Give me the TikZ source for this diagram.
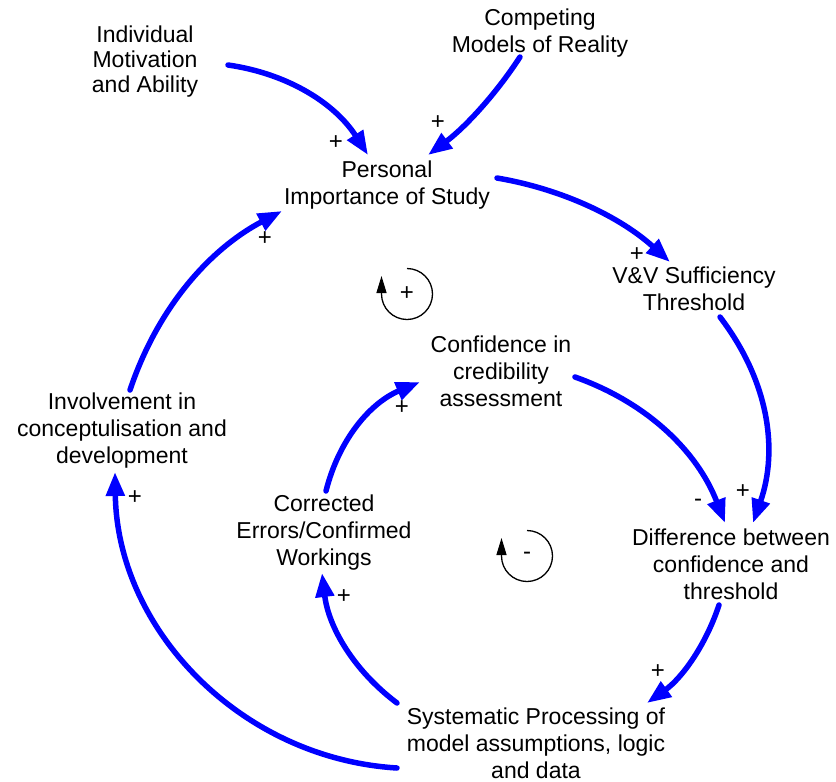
\documentclass[tikz,border=0pt]{standalone}
\usepackage{fontspec}
\setmainfont{Liberation Sans}
\usetikzlibrary{arrows.meta,calc}
\begin{document}
\begin{tikzpicture}[x=1pt,y=-1pt,
  var/.style={align=center,inner sep=0pt,font=\fontsize{23}{27}\selectfont},
  pol/.style={inner sep=0pt,font=\fontsize{24}{24}\selectfont},
  link/.style={draw=blue,line width=5.5pt,line cap=round,-{Triangle[length=24pt,width=18pt]}},
  loopline/.style={draw=black,line width=1.3pt,-{Triangle[length=17pt,width=10pt]}}]
\useasboundingbox (0,0) rectangle (836,782);

% variables
\node[var,font=\fontsize{23}{25}\selectfont] (ind) at (145,62) {Individual\\Motivation\\and Ability};
\node[var] (comp) at (540,33)  {Competing\\Models of Reality};
\node[var] (pers) at (387,185) {Personal\\Importance of Study};
\node[var] (vv)   at (694,289) {V\&V Sufficiency\\Threshold};
\node[var] (conf) at (501,371) {Confidence in\\credibility\\assessment};
\node[var] (inv)  at (122,431) {Involvement in\\conceptulisation and\\development};
\node[var] (corr) at (324,533) {Corrected\\Errors/Confirmed\\Workings};
\node[var] (diff) at (731,564) {Difference between\\confidence and\\threshold};
\node[var] (sys)  at (536,743) {Systematic Processing of\\model assumptions, logic\\and data};

% links
\draw[link] ($(ind)+(83,3)$) .. controls (288.4,73.7) and (335.1,103.7) .. ($(pers)+(-19,-30)$);
\draw[link] ($(comp)+(-20,24)$) .. controls (495.2,95.1) and (464.5,127.8) .. ($(pers)+(41,-30)$);
\draw[link] ($(pers)+(110,-7)$) .. controls (562.8,189.2) and (620.5,217.2) .. ($(vv)+(-24,-27)$);
\draw[link] ($(vv)+(26,28)$) .. controls (767.9,379.8) and (778.9,448.5) .. ($(diff)+(22,-41)$);
\draw[link] ($(conf)+(74,6)$) .. controls (647.3,402.7) and (697.3,451.4) .. ($(diff)+(-6,-41)$);
\draw[link] ($(diff)+(-12,41)$) .. controls (705.7,645.5) and (681.7,678.2) .. ($(sys)+(111,-40)$);
\draw[link] ($(sys)+(-139,-40)$) .. controls (353.5,670.3) and (328.5,627) .. ($(corr)+(-2,40)$);
\draw[link] ($(corr)+(2,-42)$) .. controls (339.1,439) and (370.5,402.7) .. ($(conf)+(-81,11)$);
\draw[link] ($(sys)+(-139,25)$) .. controls (240.3,758.4) and (117.2,629) .. ($(inv)+(-7,41)$);
\draw[link] ($(inv)+(8,-41)$) .. controls (156.8,310.1) and (207.5,250.4) .. ($(pers)+(-105,26)$);

% polarities
\node[pol] (p1)  at (336,143) {+};
\node[pol] (p2)  at (438,123) {+};
\node[pol] (p3)  at (637,255) {+};
\node[pol] (p4)  at (265,239) {+};
\node[pol] (p5)  at (743,492) {+};
\node[pol] (p6)  at (698,503) {-};
\node[pol] (p7)  at (658,672) {+};
\node[pol] (p8)  at (402,408) {+};
\node[pol] (p9)  at (344,597) {+};
\node[pol] (p10) at (135,498) {+};

% loop markers
\node[pol] (lp) at (407,294) {+};
\draw[loopline] ($(lp)+(0,-25.5)$) arc[start angle=-90, end angle=180, radius=25.5] -- ++(0,-18);
\node[pol] (ln) at (527,556) {-};
\draw[loopline] ($(ln)+(0,-25.5)$) arc[start angle=-90, end angle=180, radius=25.5] -- ++(0,-18);
\end{tikzpicture}
\end{document}
